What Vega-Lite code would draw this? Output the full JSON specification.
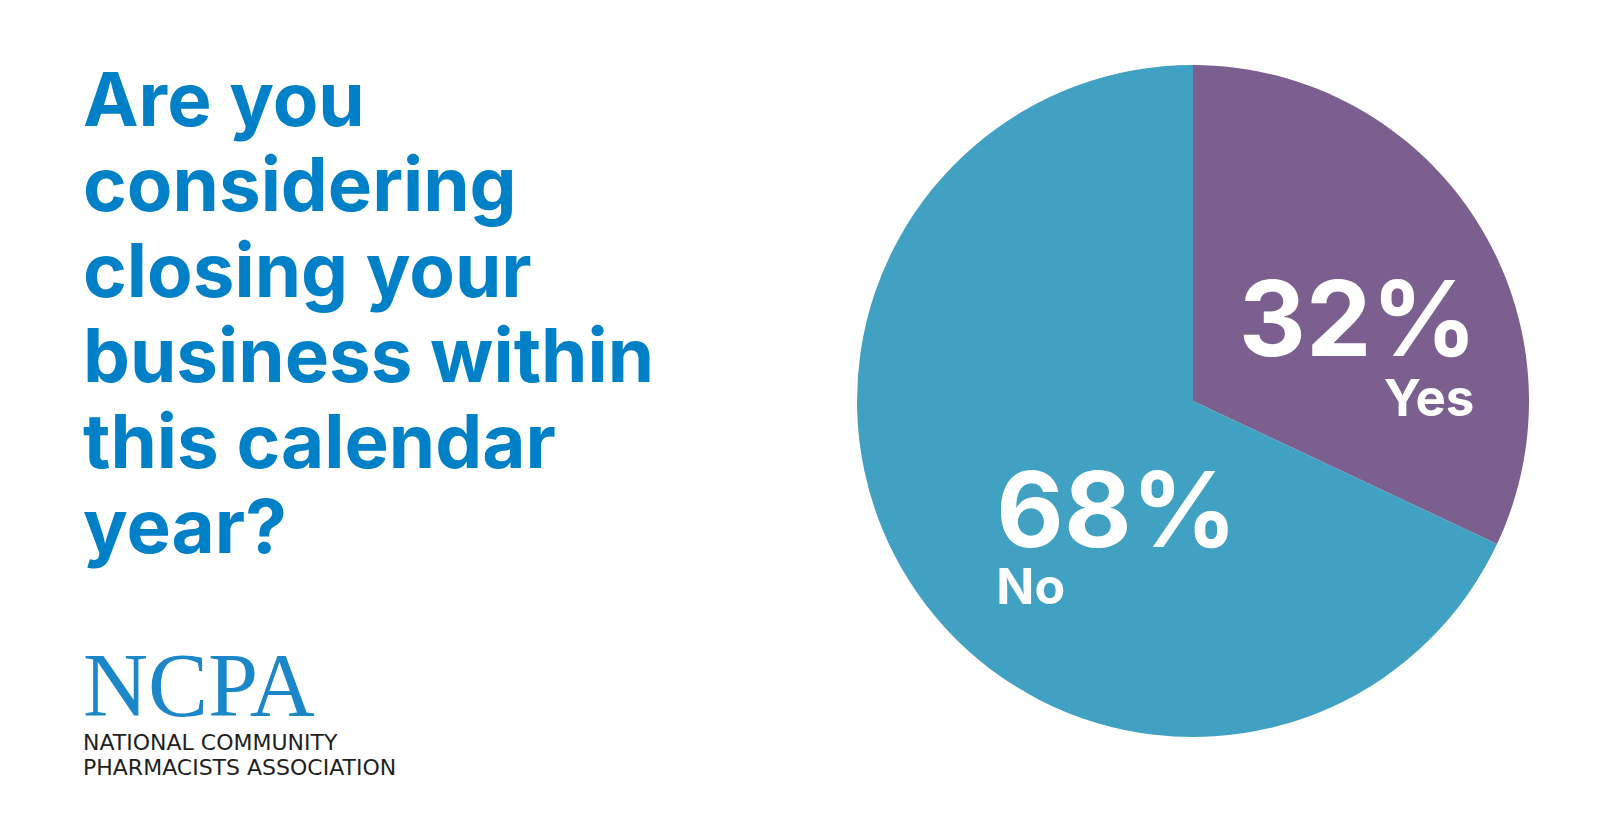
{
  "$schema": "https://vega.github.io/schema/vega-lite/v6.json",
  "background": "white",
  "padding": {"left": 83, "top": 65, "right": 0, "bottom": 0},
  "config": {"view": {"stroke": null}, "concat": {"spacing": 0}},
  "spacing": 124,
  "hconcat": [
    {
      "spacing": 70,
      "vconcat": [
        {
          "width": 650,
          "height": 1,
          "data": {"values": []},
          "mark": "text",
          "title": {
            "text": ["Are you", "considering", "closing your", "business within", "this calendar", "year?"],
            "orient": "bottom",
            "anchor": "start",
            "frame": "group",
            "baseline": "top",
            "font": "Inter",
            "fontSize": 74.5,
            "fontWeight": "bold",
            "color": "#0080C7",
            "lineHeight": 85.4,
            "offset": 1
          }
        },
        {
          "width": 650,
          "height": 1,
          "data": {"values": []},
          "mark": "text",
          "title": {
            "text": "NCPA",
            "subtitle": ["NATIONAL COMMUNITY", "PHARMACISTS ASSOCIATION"],
            "orient": "bottom",
            "anchor": "start",
            "frame": "group",
            "baseline": "top",
            "font": "Liberation Serif",
            "fontSize": 90,
            "fontWeight": "normal",
            "color": "#1B86C8",
            "subtitleFont": "DejaVu Sans",
            "subtitleFontSize": 22,
            "subtitleColor": "#231F20",
            "subtitleLineHeight": 24.5,
            "subtitlePadding": -2,
            "offset": 6
          }
        }
      ]
    },
    {
      "width": 672,
      "height": 672,
      "data": {
        "values": [
          {"answer": "Yes", "share": 32, "label": "32%"},
          {"answer": "No", "share": 68, "label": "68%"}
        ]
      },
      "encoding": {
        "theta": {"field": "share", "type": "quantitative", "stack": true},
        "order": {"field": "answer", "sort": "descending"}
      },
      "layer": [
        {
          "mark": {"type": "arc", "outerRadius": 336},
          "encoding": {
            "color": {
              "field": "answer",
              "type": "nominal",
              "scale": {"domain": ["Yes", "No"], "range": ["#7B5F8E", "#41A1C2"]},
              "legend": null
            }
          }
        },
        {
          "mark": {"type": "text", "radius": 180, "dx": 13, "dy": 51, "align": "center", "baseline": "alphabetic", "font": "Inter", "fontWeight": "bold", "fontSize": 104, "color": "white"},
          "encoding": {"text": {"condition": {"test": "datum.answer === 'Yes'", "field": "label"}, "value": ""}}
        },
        {
          "mark": {"type": "text", "radius": 250, "dx": 25, "dy": 149, "align": "center", "baseline": "alphabetic", "font": "Inter", "fontWeight": "bold", "fontSize": 51, "color": "white"},
          "encoding": {"text": {"condition": {"test": "datum.answer === 'Yes'", "field": "answer"}, "value": ""}}
        },
        {
          "mark": {"type": "text", "radius": 140, "dx": 42, "dy": 71, "align": "center", "baseline": "alphabetic", "font": "Inter", "fontWeight": "bold", "fontSize": 104, "color": "white"},
          "encoding": {"text": {"condition": {"test": "datum.answer === 'No'", "field": "label"}, "value": ""}}
        },
        {
          "mark": {"type": "text", "radius": 240, "dx": 6, "dy": 74, "align": "left", "baseline": "alphabetic", "font": "Inter", "fontWeight": "bold", "fontSize": 50, "color": "white"},
          "encoding": {"text": {"condition": {"test": "datum.answer === 'No'", "field": "answer"}, "value": ""}}
        }
      ]
    }
  ]
}
